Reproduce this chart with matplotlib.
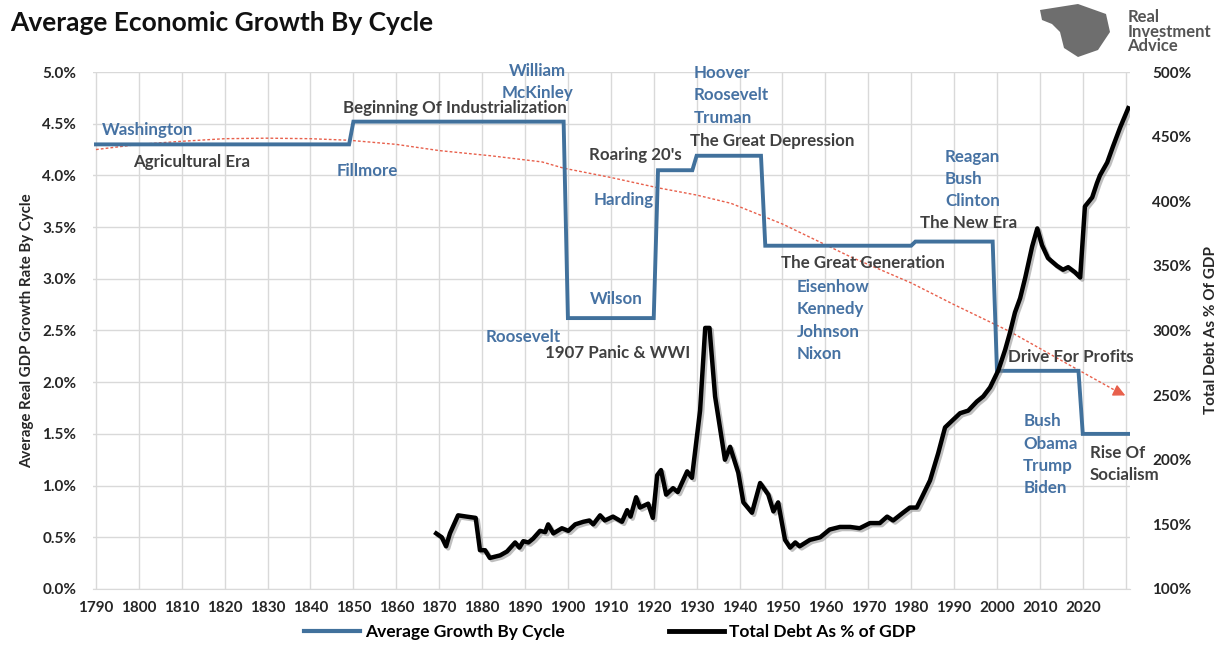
import numpy as np
import matplotlib.pyplot as plt
import matplotlib.patheffects as pe
from matplotlib.lines import Line2D
from matplotlib.patches import Polygon

plt.rcParams['font.family'] = ['Lato', 'DejaVu Sans']
plt.rcParams['font.weight'] = 'bold'

BLUE = '#41719C'
TXT_BLUE = '#4672A3'
TXT_GRAY = '#404040'
GRID = '#D9D9D9'

# growth cycles: start year, end year, avg real GDP growth (%)
cycle_start = [1790, 1850, 1900, 1921, 1930, 1946, 1981, 2000, 2020]
cycle_end = [1849, 1899, 1920, 1929, 1945, 1980, 1999, 2019, 2031]
cycle_rate = [4.30, 4.52, 2.62, 4.05, 4.19, 3.32, 3.36, 2.11, 1.50]

# total debt as % of GDP
debt_years = [1869.3, 1870.6, 1871.6, 1872.5, 1874.4, 1876.4, 1878.5, 1879.5, 1880.7, 1881.8,
              1884.2, 1885.8, 1887.7, 1888.7, 1889.6, 1890.8, 1891.9, 1893.5, 1894.7, 1895.4,
              1896.6, 1898.6, 1900.1, 1901.7, 1903.6, 1905.0, 1905.9, 1907.5, 1908.6, 1910.5,
              1912.6, 1913.8, 1914.6, 1915.9, 1916.8, 1918.7, 1919.8, 1920.8, 1921.7, 1922.9,
              1924.5, 1925.6, 1927.8, 1928.9, 1930.8, 1932.0, 1933.0, 1934.3, 1936.6, 1937.8,
              1939.7, 1940.9, 1942.9, 1944.8, 1946.7, 1947.9, 1949.0, 1950.6, 1951.8, 1953.0,
              1954.0, 1956.4, 1958.8, 1961.0, 1963.4, 1965.8, 1968.0, 1970.4, 1972.7, 1974.4,
              1975.8, 1978.1, 1979.7, 1981.3, 1982.5, 1984.4, 1986.3, 1987.9, 1989.8, 1991.4,
              1993.3, 1995.3, 1996.8, 1998.4, 2000.3, 2001.9, 2003.0, 2004.2, 2005.4, 2006.6,
              2008.2, 2009.4, 2010.5, 2011.9, 2014.0, 2015.4, 2016.6, 2018.2, 2019.4, 2020.5,
              2022.2, 2023.3, 2024.0, 2025.7, 2027.0, 2028.7, 2030.6]
debt_pct = [143, 140, 133, 143, 157, 156, 155, 130, 130, 124,
            126, 129, 136, 132, 137, 136, 139, 145, 144, 150,
            143, 147, 145, 150, 152, 153, 150, 157, 153, 156,
            152, 161, 156, 171, 163, 166, 155, 188, 192, 173,
            178, 175, 191, 186, 238, 302, 302, 249, 200, 210,
            190, 167, 159, 182, 173, 160, 167, 138, 132, 136,
            133, 138, 140, 146, 148, 148, 147, 151, 151, 156,
            153, 159, 163, 163, 171, 184, 205, 225, 231, 236,
            238, 245, 249, 256, 269, 285, 298, 314, 325, 341,
            365, 379, 366, 356, 350, 347, 349, 345, 341, 396,
            403, 414, 420, 430, 442, 457, 472]

# red dotted trend
trend_years = [1790, 1800, 1810, 1820, 1830, 1840, 1849, 1860, 1870, 1882, 1894, 1899, 1910,
               1921, 1930, 1938, 1950, 1966, 1980, 1990, 2003, 2015, 2028]
trend_vals = [4.25, 4.30, 4.33, 4.355, 4.36, 4.355, 4.34, 4.30, 4.24, 4.19, 4.13, 4.07, 3.98,
              3.88, 3.81, 3.73, 3.53, 3.21, 2.96, 2.75, 2.49, 2.21, 1.91]
trend_end = (2030.5, 1.86)

fig = plt.figure(figsize=(12.2, 6.6), dpi=100)
ax = fig.add_axes([0.0762, 0.1076, 0.85, 0.7833])
ax2 = ax.twinx()

gx, gy = [], []
for s, e, r in zip(cycle_start, cycle_end, cycle_rate):
    gx += [s, e]
    gy += [r, r]
ax.plot(gx, gy, color=BLUE, lw=2.8, solid_joinstyle='miter', zorder=3)

ax.plot(trend_years, trend_vals, color='#E8604C', lw=1.0, ls=(0, (2, 1.5)), zorder=2)
ax.annotate('', xy=trend_end, xytext=(trend_years[-1], trend_vals[-1]),
            arrowprops=dict(arrowstyle='-|>', color='#E8604C', lw=1.0,
                            mutation_scale=18))

ax2.plot(debt_years, debt_pct, color='black', lw=3.2, zorder=4,
         path_effects=[pe.SimpleLineShadow(offset=(1.5, -1.5), shadow_color='gray', alpha=0.5),
                       pe.Normal()])

ax.set_xlim(1789.3, 2031)
ax.set_ylim(0, 5)
ax2.set_ylim(100, 500)

xt = list(range(1790, 2031, 10))
ax.set_xticks(xt)
ax.set_xticklabels([str(y) if y <= 2020 else '' for y in xt])
ax.set_yticks(np.arange(0, 5.01, 0.5))
ax.set_yticklabels([f'{v:.1f}%' for v in np.arange(0, 5.01, 0.5)])
ax2.set_yticks(range(100, 501, 50))
ax2.set_yticklabels([f'{v}%' for v in range(100, 501, 50)])

ax.grid(True, color=GRID, lw=1.0)
ax.set_axisbelow(True)
for a in (ax, ax2):
    for sp in a.spines.values():
        sp.set_visible(False)
    a.tick_params(length=0, labelsize=11, colors='#262626')
ax.tick_params(axis='y', pad=12)
ax.tick_params(axis='x', pad=9)
ax2.tick_params(axis='y', pad=16)
ax.spines['bottom'].set_visible(True)
ax.spines['bottom'].set_color(GRID)

ax.set_ylabel('Average Real GDP Growth Rate By Cycle', fontsize=10.8, fontweight='bold',
              color='#262626', labelpad=6)
ax2.set_ylabel('Total Debt As % Of GDP', fontsize=11, fontweight='bold',
               color='#262626', labelpad=9)

# annotations: (text lines, x year, first line y, color)
notes = [
    (['Washington'], 1791.4, 4.44, TXT_BLUE),
    (['Agricultural Era'], 1798.6, 4.13, TXT_GRAY),
    (['Fillmore'], 1846.0, 4.04, TXT_BLUE),
    (['Beginning Of Industrialization'], 1847.6, 4.65, TXT_GRAY),
    (['Roosevelt'], 1880.9, 2.44, TXT_BLUE),
    (['1907 Panic & WWI'], 1894.7, 2.28, TXT_GRAY),
    (['Wilson'], 1905.2, 2.80, TXT_BLUE),
    (['Harding'], 1905.9, 3.76, TXT_BLUE),
    (["Roaring 20's"], 1904.9, 4.20, TXT_GRAY),
    (['Hoover', 'Roosevelt', 'Truman'], 1929.4, 4.99, TXT_BLUE),
    (['The Great Depression'], 1928.5, 4.33, TXT_GRAY),
    (['Reagan', 'Bush', 'Clinton'], 1987.9, 4.18, TXT_BLUE),
    (['The New Era'], 1982.1, 3.54, TXT_GRAY),
    (['The Great Generation'], 1949.7, 3.15, TXT_GRAY),
    (['Eisenhow', 'Kennedy', 'Johnson', 'Nixon'], 1953.4, 2.92, TXT_BLUE),
    (['Drive For Profits'], 2002.6, 2.24, TXT_GRAY),
    (['Bush', 'Obama', 'Trump', 'Biden'], 2006.1, 1.62, TXT_BLUE),
    (['Rise Of', 'Socialism'], 2021.7, 1.32, TXT_GRAY),
]
for lines, x, y, c in notes:
    for i, t in enumerate(lines):
        ax2.text(x, y - i * 0.215, t, transform=ax.transData, color=c, fontsize=12.2,
                 fontweight='bold', ha='left', va='center', zorder=6)
for i, t in enumerate(['William', 'McKinley']):
    ax2.text(1892.8, 5.01 - i * 0.21, t, transform=ax.transData, color=TXT_BLUE,
             fontsize=12.2, fontweight='bold', ha='center', va='center', zorder=6)

fig.text(0.008, 0.965, 'Average Economic Growth By Cycle', fontsize=19, fontweight='bold',
         color='#111111', va='center', ha='left')

# logo
fig.text(0.924, 0.952, 'Real\nInvestment\nAdvice', fontsize=12, fontweight='bold',
         color='#555555', va='center', ha='left', linespacing=0.88)
logo_px = [(1040, 10), (1078, 4), (1106, 14), (1110, 32), (1098, 50), (1078, 57),
           (1064, 48), (1060, 32), (1052, 24), (1042, 20)]
eagle = Polygon([[x / 1220, 1 - y / 660] for x, y in logo_px], closed=True,
                transform=fig.transFigure, facecolor='#6e6e6e', edgecolor='none')
fig.patches.append(eagle)

handles = [Line2D([0], [0], color=BLUE, lw=3), Line2D([0], [0], color='black', lw=3.5)]
fig.legend(handles, ['Average Growth By Cycle', 'Total Debt As % of GDP'],
           loc='center', bbox_to_anchor=(0.5, 0.043), ncol=2, frameon=False,
           fontsize=12.5, handlelength=3.2, handletextpad=0.3, columnspacing=6)

fig.savefig('out.png', dpi=100)
